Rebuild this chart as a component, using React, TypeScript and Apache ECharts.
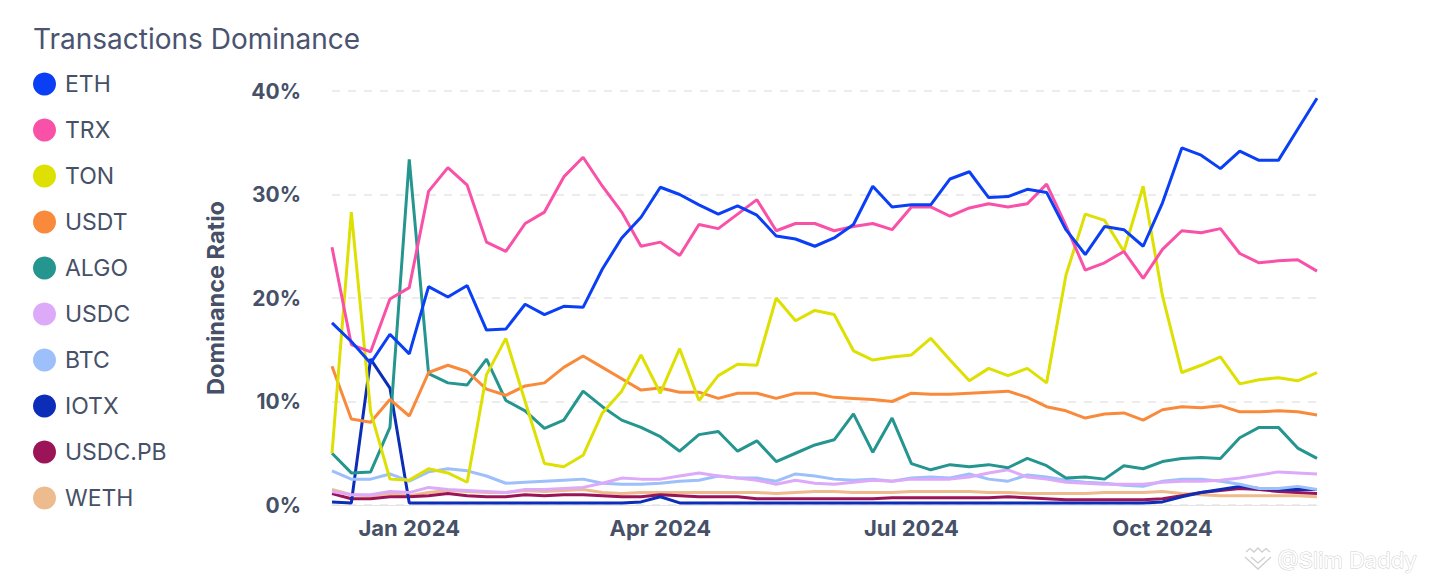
import React, { useEffect, useRef } from "react";
import * as echarts from "echarts";

const DATES = [
  "2023-12-04", "2023-12-11", "2023-12-18", "2023-12-25",
  "2024-01-01", "2024-01-08", "2024-01-15", "2024-01-22", "2024-01-29",
  "2024-02-05", "2024-02-12", "2024-02-19", "2024-02-26",
  "2024-03-04", "2024-03-11", "2024-03-18", "2024-03-25",
  "2024-04-01", "2024-04-08", "2024-04-15", "2024-04-22", "2024-04-29",
  "2024-05-06", "2024-05-13", "2024-05-20", "2024-05-27",
  "2024-06-03", "2024-06-10", "2024-06-17", "2024-06-24",
  "2024-07-01", "2024-07-08", "2024-07-15", "2024-07-22", "2024-07-29",
  "2024-08-05", "2024-08-12", "2024-08-19", "2024-08-26",
  "2024-09-02", "2024-09-09", "2024-09-16", "2024-09-23", "2024-09-30",
  "2024-10-07", "2024-10-14", "2024-10-21", "2024-10-28",
  "2024-11-04", "2024-11-11", "2024-11-18", "2024-11-25",
];

// tick positions (weeks nearest the quarter starts) and their labels
const X_TICKS = ["2024-01-01", "2024-04-01", "2024-07-01", "2024-09-30"];
const X_TICK_LABELS = ["Jan 2024", "Apr 2024", "Jul 2024", "Oct 2024"];
const Y_TICKS = [0, 10, 20, 30, 40];

const ETH = [
  17.6, 15.8, 13.7, 16.5, 14.6, 21.1, 20.1, 21.2, 16.9, 17.0, 19.4, 18.4, 19.2,
  19.1, 22.8, 25.8, 27.8, 30.7, 30.0, 29.0, 28.1, 28.9, 28.0, 26.0, 25.7, 25.0,
  25.8, 27.1, 30.8, 28.8, 29.0, 29.0, 31.5, 32.2, 29.7, 29.8, 30.5, 30.2, 26.6,
  24.2, 26.9, 26.6, 25.0, 29.2, 34.5, 33.8, 32.5, 34.2, 33.3, 33.3, 36.3, 39.3,
];
const TRX = [
  24.9, 15.5, 14.8, 19.9, 21.0, 30.3, 32.6, 30.9, 25.4, 24.5, 27.2, 28.3, 31.7,
  33.6, 30.8, 28.3, 25.0, 25.4, 24.1, 27.1, 26.7, 28.1, 29.5, 26.5, 27.2, 27.2,
  26.5, 26.9, 27.2, 26.6, 28.8, 28.8, 27.9, 28.7, 29.1, 28.8, 29.1, 31.0, 27.0,
  22.7, 23.4, 24.5, 21.9, 24.7, 26.5, 26.3, 26.7, 24.3, 23.4, 23.6, 23.7, 22.6,
];
const TON = [
  5.0, 28.3, 9.0, 2.5, 2.4, 3.5, 3.1, 2.2, 12.6, 16.1, 10.0, 4.0, 3.7, 4.8, 8.9,
  11.0, 14.5, 10.8, 15.1, 10.1, 12.5, 13.6, 13.5, 20.0, 17.8, 18.8, 18.4, 14.9,
  14.0, 14.3, 14.5, 16.1, 14.0, 12.0, 13.2, 12.5, 13.2, 11.8, 22.2, 28.1, 27.5,
  24.5, 30.8, 20.2, 12.8, 13.5, 14.3, 11.7, 12.1, 12.3, 12.0, 12.8,
];
const USDT = [
  13.4, 8.3, 8.0, 10.2, 8.6, 12.8, 13.5, 12.9, 11.2, 10.6, 11.5, 11.8, 13.3,
  14.4, 13.3, 12.2, 11.1, 11.3, 10.9, 10.9, 10.3, 10.8, 10.8, 10.3, 10.8, 10.8,
  10.4, 10.3, 10.2, 10.0, 10.8, 10.7, 10.7, 10.8, 10.9, 11.0, 10.4, 9.5, 9.1,
  8.4, 8.8, 8.9, 8.2, 9.2, 9.5, 9.4, 9.6, 9.0, 9.0, 9.1, 9.0, 8.7,
];
const ALGO = [
  5.0, 3.1, 3.2, 7.5, 33.4, 12.7, 11.8, 11.6, 14.1, 10.1, 9.1, 7.4, 8.2, 11.0,
  9.5, 8.2, 7.5, 6.6, 5.2, 6.8, 7.1, 5.2, 6.2, 4.2, 5.0, 5.8, 6.3, 8.8, 5.1, 8.4,
  4.0, 3.4, 3.9, 3.7, 3.9, 3.6, 4.5, 3.8, 2.6, 2.7, 2.5, 3.8, 3.5, 4.2, 4.5, 4.6,
  4.5, 6.5, 7.5, 7.5, 5.5, 4.5,
];
const USDC = [
  1.3, 1.0, 1.0, 1.3, 1.2, 1.7, 1.5, 1.4, 1.3, 1.2, 1.5, 1.5, 1.6, 1.7, 2.1, 2.6,
  2.5, 2.5, 2.8, 3.1, 2.8, 2.6, 2.4, 2.0, 2.4, 2.1, 2.0, 2.2, 2.4, 2.3, 2.5, 2.5,
  2.5, 2.7, 3.1, 3.4, 2.7, 2.5, 2.2, 2.1, 2.0, 2.0, 2.0, 2.2, 2.3, 2.3, 2.4, 2.6,
  2.9, 3.2, 3.1, 3.0,
];
const BTC = [
  3.3, 2.5, 2.5, 3.0, 2.3, 3.2, 3.5, 3.3, 2.8, 2.1, 2.2, 2.3, 2.4, 2.5, 2.1, 2.0,
  2.0, 2.1, 2.3, 2.4, 2.8, 2.6, 2.6, 2.3, 3.0, 2.8, 2.5, 2.4, 2.5, 2.3, 2.6, 2.7,
  2.6, 3.0, 2.5, 2.3, 2.9, 2.7, 2.4, 2.2, 2.1, 1.9, 1.8, 2.3, 2.5, 2.5, 2.3, 2.0,
  1.6, 1.6, 1.8, 1.5,
];
const IOTX = [
  0.3, 0.2, 14.1, 11.3, 0.2, 0.2, 0.2, 0.2, 0.2, 0.2, 0.2, 0.2, 0.2, 0.2, 0.2,
  0.2, 0.3, 0.8, 0.2, 0.2, 0.2, 0.2, 0.2, 0.2, 0.2, 0.2, 0.2, 0.2, 0.2, 0.2, 0.2,
  0.2, 0.2, 0.2, 0.2, 0.2, 0.2, 0.2, 0.2, 0.2, 0.2, 0.2, 0.2, 0.3, 0.8, 1.2, 1.5,
  1.8, 1.6, 1.5, 1.5, 1.5,
];
const USDC_PB = [
  1.1, 0.6, 0.6, 0.8, 0.8, 0.9, 1.1, 0.9, 0.8, 0.8, 1.0, 0.9, 1.0, 1.0, 0.9, 0.8,
  0.8, 1.0, 0.9, 0.8, 0.8, 0.8, 0.6, 0.6, 0.6, 0.6, 0.6, 0.6, 0.6, 0.7, 0.7, 0.7,
  0.7, 0.7, 0.7, 0.8, 0.7, 0.6, 0.5, 0.5, 0.5, 0.5, 0.5, 0.6, 0.9, 1.2, 1.4, 1.6,
  1.5, 1.3, 1.2, 1.1,
];
const WETH = [
  1.5, 1.0, 0.9, 1.1, 0.9, 1.2, 1.4, 1.3, 1.2, 1.2, 1.4, 1.3, 1.4, 1.5, 1.2, 1.1,
  1.2, 1.2, 1.2, 1.2, 1.2, 1.2, 1.2, 1.1, 1.2, 1.3, 1.3, 1.2, 1.2, 1.2, 1.3, 1.3,
  1.3, 1.3, 1.2, 1.2, 1.1, 1.1, 1.1, 1.1, 1.2, 1.2, 1.2, 1.3, 1.1, 1.0, 0.9, 0.9,
  0.9, 0.9, 0.9, 0.8,
];

const SERIES_NAMES = ["ETH", "TRX", "TON", "USDT", "ALGO", "USDC", "BTC", "IOTX", "USDC.PB", "WETH"];
const SERIES_VALUES = [ETH, TRX, TON, USDT, ALGO, USDC, BTC, IOTX, USDC_PB, WETH];
const COLORS = [
  "#0a3ff5", "#f950a8", "#dde000", "#f98a3c", "#25958f",
  "#dcaaf8", "#9dbffa", "#0b2db8", "#9c1458", "#edbb8d",
];

const FONT = "Inter, 'Noto Sans', 'DejaVu Sans', sans-serif";
const TEXT = "#465067";
const MARK = "#cfcfcf";

export default function App() {
  const ref = useRef<HTMLDivElement>(null);

  useEffect(() => {
    if (!ref.current) return;
    document.body.style.margin = "0";
    const chart = echarts.init(ref.current, null, { renderer: "svg" });
    const series = SERIES_NAMES.map((name, k) => ({
      name,
      type: "line",
      data: SERIES_VALUES[k],
      showSymbol: false,
      symbol: "none",
      lineStyle: { width: 3, color: COLORS[k] },
      itemStyle: { color: COLORS[k] },
      z: 10 - k,
    })).reverse();

    chart.setOption({
      animation: false,
      backgroundColor: "#ffffff",
      textStyle: { fontFamily: FONT },
      title: {
        text: "Transactions Dominance",
        left: 33,
        top: 25,
        padding: 0,
        textStyle: { fontFamily: FONT, fontSize: 28, fontWeight: "normal", color: "#4a5370" },
      },
      legend: {
        orient: "vertical",
        left: 33,
        top: 72.5,
        padding: 0,
        icon: "circle",
        itemWidth: 23,
        itemHeight: 23,
        itemGap: 23,
        data: SERIES_NAMES,
        textStyle: { fontFamily: FONT, fontSize: 23, color: TEXT, padding: [0, 0, 0, 4] },
        selectedMode: false,
      },
      grid: { left: 332, right: 119, top: 91, bottom: 75 },
      xAxis: {
        type: "category",
        data: DATES,
        boundaryGap: false,
        axisLine: { show: true, lineStyle: { color: "#e4e4e4", width: 1 } },
        axisTick: { show: false },
        splitLine: { show: false },
        axisLabel: {
          interval: (_i: number, v: string) => X_TICKS.indexOf(v) >= 0,
          formatter: (v: string) => {
            const idx = X_TICKS.indexOf(v);
            return idx >= 0 ? X_TICK_LABELS[idx] : "";
          },
          margin: 12,
          fontFamily: FONT,
          fontSize: 22,
          fontWeight: "bold",
          color: TEXT,
        },
      },
      yAxis: {
        type: "value",
        min: Y_TICKS[0],
        max: Y_TICKS[Y_TICKS.length - 1],
        interval: 10,
        name: "Dominance Ratio",
        nameLocation: "middle",
        nameRotate: 90,
        nameGap: 105,
        nameTextStyle: { fontFamily: FONT, fontSize: 23.5, fontWeight: "bold", color: TEXT },
        axisLine: { show: false },
        axisTick: { show: false },
        splitLine: { show: true, lineStyle: { color: "#e6e6e6", type: [8, 8], width: 1.5 } },
        axisLabel: {
          formatter: "{value}%",
          margin: 31,
          fontFamily: FONT,
          fontSize: 21,
          fontWeight: "bold",
          color: TEXT,
        },
      },
      graphic: [
        {
          type: "polyline",
          silent: true,
          shape: { points: [[1246, 552], [1250, 548.5], [1254, 552], [1258, 548], [1262, 552], [1266, 548.5], [1270, 552]] },
          style: { stroke: MARK, lineWidth: 1.3, fill: "none" },
        },
        {
          type: "polyline",
          silent: true,
          shape: { points: [[1245, 557], [1258, 569], [1271, 557]] },
          style: { stroke: MARK, lineWidth: 1.3, fill: "none" },
        },
        {
          type: "polyline",
          silent: true,
          shape: { points: [[1251, 557], [1258, 563], [1265, 557]] },
          style: { stroke: MARK, lineWidth: 1.3, fill: "none" },
        },
        {
          type: "text",
          left: 1277,
          top: 548,
          silent: true,
          style: {
            text: "@Slim Daddy",
            fontFamily: FONT,
            fontSize: 22,
            fill: "#ffffff",
            stroke: MARK,
            lineWidth: 1,
          },
        },
      ],
      series,
    });
    return () => chart.dispose();
  }, []);

  return <div ref={ref} style={{ width: 1436, height: 580 }} />;
}
